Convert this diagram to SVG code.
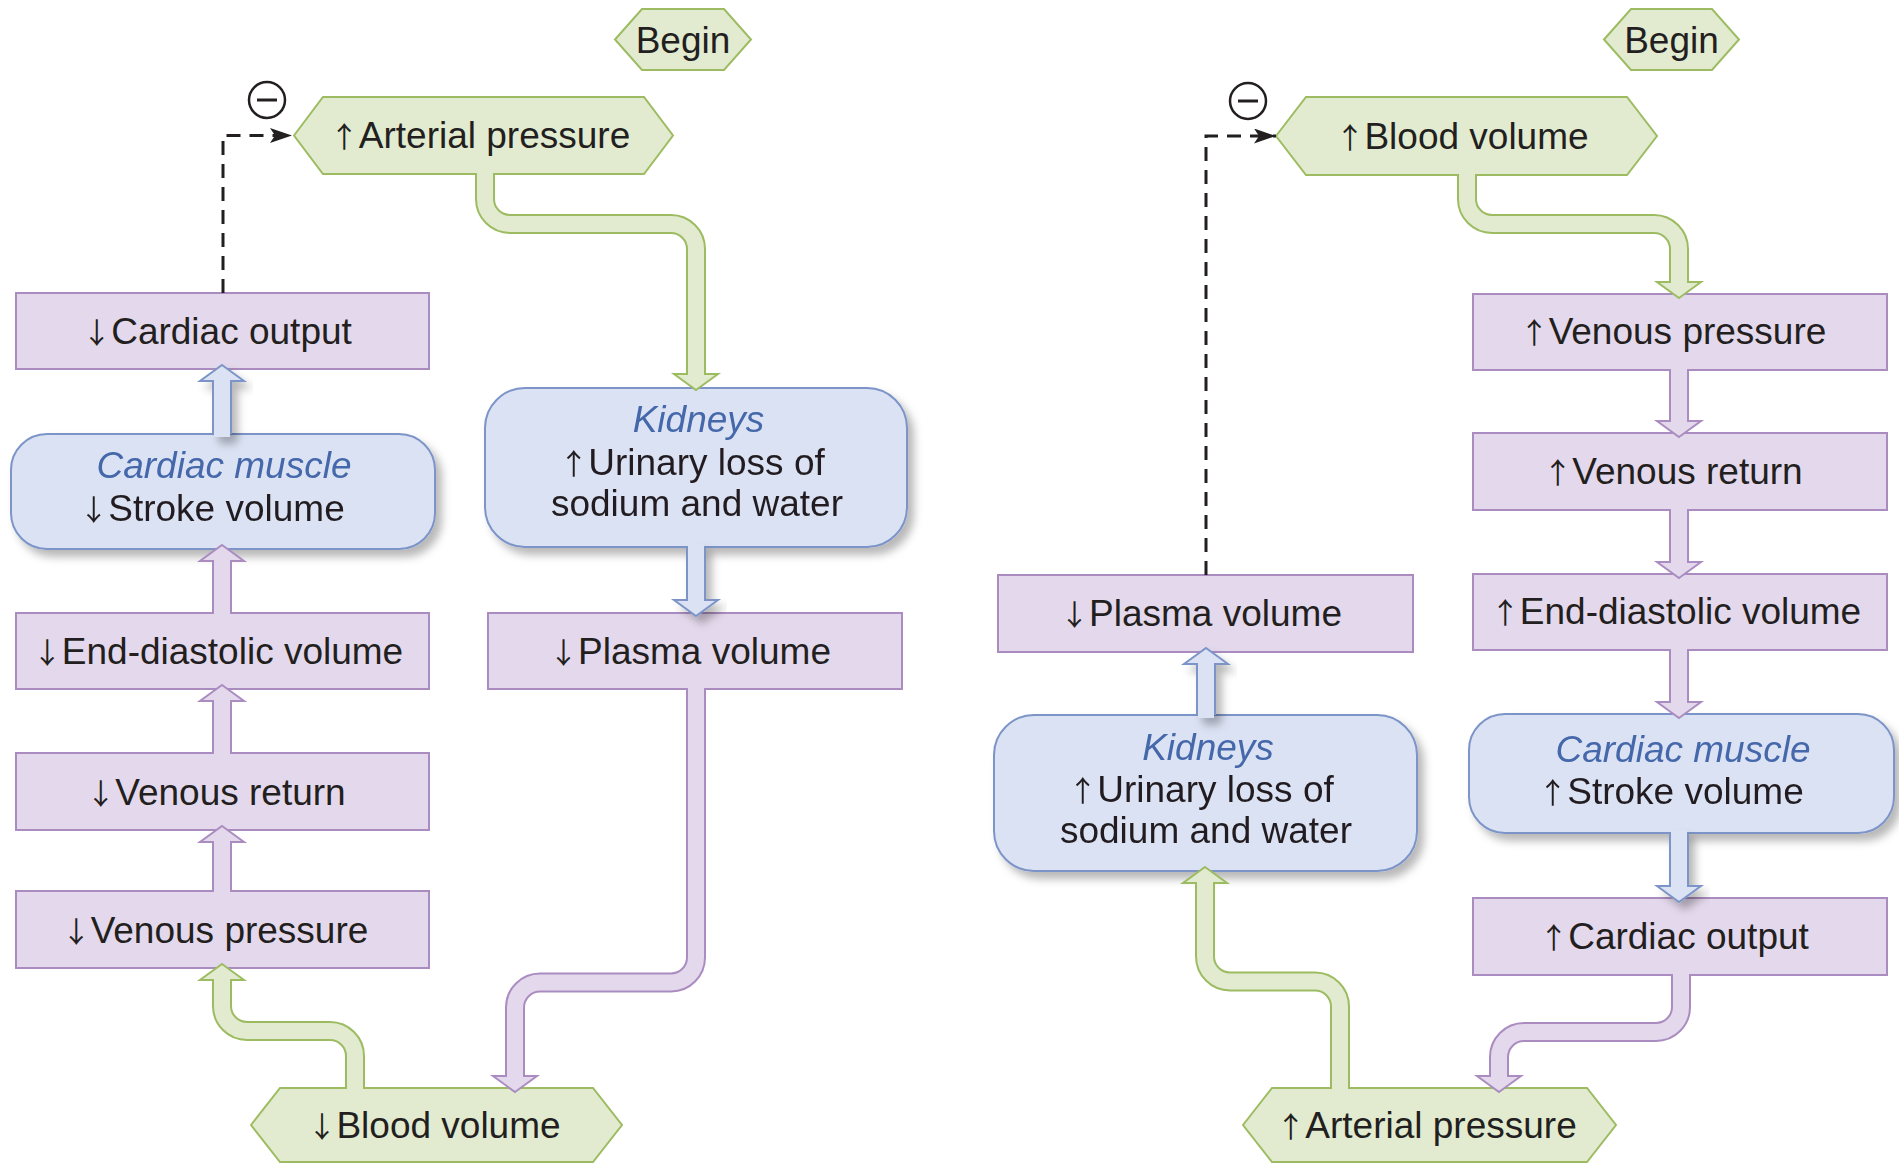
<svg xmlns="http://www.w3.org/2000/svg" width="1899" height="1163" viewBox="0 0 1899 1163">
  <defs>
    <style>
      .pk { fill: #e4d9ec; stroke: #ab8cc0; stroke-width: 2; stroke-linejoin: miter; }
      .gr { fill: #e2ebd0; stroke: #9dbc62; stroke-width: 2; stroke-linejoin: miter; }
      .bl { fill: #dbe2f3; stroke: #7c94c8; stroke-width: 2; stroke-linejoin: miter; }
      .t { font-family: "Liberation Sans", Arial, sans-serif; font-size: 37px; fill: #231f20; text-anchor: middle; }
      .ti { font-style: italic; fill: #4467ab; }
      .ar { font-family: "Noto Sans CJK SC", "DejaVu Sans", sans-serif; font-size: 29px; }
      .o-pk { fill: none; stroke: #ab8cc0; stroke-width: 20; }
      .i-pk { fill: none; stroke: #e4d9ec; stroke-width: 16; }
      .o-gr { fill: none; stroke: #9dbc62; stroke-width: 20; }
      .i-gr { fill: none; stroke: #e2ebd0; stroke-width: 16; }
      .o-bl { fill: none; stroke: #7c94c8; stroke-width: 20; }
      .i-bl { fill: none; stroke: #dbe2f3; stroke-width: 16; }
      .dash { fill: none; stroke: #231f20; stroke-width: 3; stroke-dasharray: 14 9; marker-end: url(#ah); }
      .minus { fill: #ffffff; stroke: #231f20; stroke-width: 2.5; }
    </style>
    <filter id="shadow" x="-10%" y="-10%" width="130%" height="140%">
      <feDropShadow dx="6" dy="7" stdDeviation="4" flood-color="#000000" flood-opacity="0.28"/>
    </filter>
    <marker id="ah" viewBox="0 0 22 15" refX="22" refY="7.5" markerWidth="22" markerHeight="15" markerUnits="userSpaceOnUse" orient="auto">
      <path d="M0,0 L22,7.5 L0,15 L5,7.5 z" fill="#231f20"/>
    </marker>
  </defs>

  <rect width="1899" height="1163" fill="#ffffff"/>

  <!-- ===== Left loop: rise in arterial pressure ===== -->
  <g id="begin-left">
    <polygon class="gr" points="615,39.5 642,9 724,9 751,39.5 724,70 642,70"/>
    <text class="t" x="683" y="52.5">Begin</text>
  </g>
  <g id="arterial-pressure-up-left">
    <polygon class="gr" points="294,135.5 323,97 644,97 673,135.5 644,174 323,174"/>
    <text class="t" x="480" y="148"><tspan class="ar">↑</tspan>Arterial pressure</text>
  </g>
  <g id="minus-left">
    <circle class="minus" cx="267" cy="100" r="18"/>
    <line x1="257" y1="100" x2="277" y2="100" stroke="#231f20" stroke-width="3"/>
  </g>
  <g id="cardiac-output-down">
    <rect class="pk" x="16" y="293" width="413" height="76"/>
    <text class="t" x="217" y="344"><tspan class="ar">↓</tspan>Cardiac output</text>
  </g>
  <g id="cardiac-muscle-left" filter="url(#shadow)">
    <rect class="bl" x="11" y="434" width="424" height="115" rx="36" ry="36"/>
    <text class="t ti" x="224" y="478">Cardiac muscle</text>
    <text class="t" x="212" y="521"><tspan class="ar">↓</tspan>Stroke volume</text>
  </g>
  <g id="end-diastolic-down">
    <rect class="pk" x="16" y="613" width="413" height="76"/>
    <text class="t" x="218" y="664"><tspan class="ar">↓</tspan>End-diastolic volume</text>
  </g>
  <g id="venous-return-down">
    <rect class="pk" x="16" y="753" width="413" height="77"/>
    <text class="t" x="216" y="804.5"><tspan class="ar">↓</tspan>Venous return</text>
  </g>
  <g id="venous-pressure-down">
    <rect class="pk" x="16" y="891" width="413" height="77"/>
    <text class="t" x="215" y="942.5"><tspan class="ar">↓</tspan>Venous pressure</text>
  </g>
  <g id="blood-volume-down">
    <polygon class="gr" points="251,1125 280,1088 593,1088 622,1125 593,1162 280,1162"/>
    <text class="t" x="434" y="1138"><tspan class="ar">↓</tspan>Blood volume</text>
  </g>
  <g id="kidneys-left" filter="url(#shadow)">
    <rect class="bl" x="485" y="388" width="422" height="159" rx="40" ry="40"/>
    <text class="t ti" x="698.5" y="432">Kidneys</text>
    <text class="t" x="692" y="475"><tspan class="ar">↑</tspan>Urinary loss of</text>
    <text class="t" x="697" y="516">sodium and water</text>
  </g>
  <g id="plasma-volume-down-left">
    <rect class="pk" x="488" y="613" width="414" height="76"/>
    <text class="t" x="690" y="664"><tspan class="ar">↓</tspan>Plasma volume</text>
  </g>

  <!-- ===== Right loop: rise in blood volume ===== -->
  <g id="begin-right">
    <polygon class="gr" points="1604,39.5 1631,9 1712,9 1739,39.5 1712,70 1631,70"/>
    <text class="t" x="1671.5" y="52.5">Begin</text>
  </g>
  <g id="blood-volume-up">
    <polygon class="gr" points="1276,136 1306,97 1627,97 1657,136 1627,175 1306,175"/>
    <text class="t" x="1462" y="148.5"><tspan class="ar">↑</tspan>Blood volume</text>
  </g>
  <g id="minus-right">
    <circle class="minus" cx="1248" cy="101" r="18"/>
    <line x1="1238" y1="101" x2="1258" y2="101" stroke="#231f20" stroke-width="3"/>
  </g>
  <g id="venous-pressure-up">
    <rect class="pk" x="1473" y="294" width="414" height="76"/>
    <text class="t" x="1673" y="343.5"><tspan class="ar">↑</tspan>Venous pressure</text>
  </g>
  <g id="venous-return-up">
    <rect class="pk" x="1473" y="433" width="414" height="77"/>
    <text class="t" x="1673" y="483.5"><tspan class="ar">↑</tspan>Venous return</text>
  </g>
  <g id="end-diastolic-up">
    <rect class="pk" x="1473" y="574" width="414" height="76"/>
    <text class="t" x="1676" y="624"><tspan class="ar">↑</tspan>End-diastolic volume</text>
  </g>
  <g id="cardiac-muscle-right" filter="url(#shadow)">
    <rect class="bl" x="1469" y="714" width="425" height="119" rx="36" ry="36"/>
    <text class="t ti" x="1683" y="762">Cardiac muscle</text>
    <text class="t" x="1671" y="804"><tspan class="ar">↑</tspan>Stroke volume</text>
  </g>
  <g id="cardiac-output-up">
    <rect class="pk" x="1473" y="898" width="414" height="77"/>
    <text class="t" x="1674" y="949"><tspan class="ar">↑</tspan>Cardiac output</text>
  </g>
  <g id="arterial-pressure-up-right">
    <polygon class="gr" points="1243,1125 1272,1088 1587,1088 1616,1125 1587,1162 1272,1162"/>
    <text class="t" x="1426.5" y="1138"><tspan class="ar">↑</tspan>Arterial pressure</text>
  </g>
  <g id="kidneys-right" filter="url(#shadow)">
    <rect class="bl" x="994" y="715" width="423" height="156" rx="40" ry="40"/>
    <text class="t ti" x="1208" y="760">Kidneys</text>
    <text class="t" x="1201" y="802"><tspan class="ar">↑</tspan>Urinary loss of</text>
    <text class="t" x="1206" y="843">sodium and water</text>
  </g>
  <g id="plasma-volume-down-right">
    <rect class="pk" x="998" y="575" width="415" height="77"/>
    <text class="t" x="1201" y="626"><tspan class="ar">↓</tspan>Plasma volume</text>
  </g>

  <!-- ===== Connectors: block arrows (border stroke, head, inner fill) and dashed feedback ===== -->
  <g id="connectors">
    <!-- left: arterial pressure -> kidneys -->
    <g>
      <path class="o-gr" d="M485,174 V199 A25,25 0 0 0 510,224 H671 A25,25 0 0 1 696,249 V374"/>
      <polygon class="gr" points="696,390 718,374 674,374"/>
      <path class="i-gr" d="M485,171 V199 A25,25 0 0 0 510,224 H671 A25,25 0 0 1 696,249 V376"/>
    </g>
    <!-- left: kidneys -> plasma volume -->
    <g filter="url(#shadow)">
      <path class="o-bl" d="M696,547 V600"/>
      <polygon class="bl" points="696,616 718,600 674,600"/>
      <path class="i-bl" d="M696,544 V602"/>
    </g>
    <!-- left: plasma volume -> blood volume -->
    <g>
      <path class="o-pk" d="M696,689 V957.5 A25,25 0 0 1 671,982.5 H540 A25,25 0 0 0 515,1007.5 V1076"/>
      <polygon class="pk" points="515,1092 537,1076 493,1076"/>
      <path class="i-pk" d="M696,686 V957.5 A25,25 0 0 1 671,982.5 H540 A25,25 0 0 0 515,1007.5 V1078"/>
    </g>
    <!-- left: blood volume -> venous pressure -->
    <g>
      <path class="o-gr" d="M355,1088 V1056 A25,25 0 0 0 330,1031 H247 A25,25 0 0 1 222,1006 V980"/>
      <polygon class="gr" points="222,964 244,980 200,980"/>
      <path class="i-gr" d="M355,1091 V1056 A25,25 0 0 0 330,1031 H247 A25,25 0 0 1 222,1006 V978"/>
    </g>
    <!-- left: venous pressure -> venous return -->
    <g>
      <path class="o-pk" d="M222,891 V842"/>
      <polygon class="pk" points="222,826 244,842 200,842"/>
      <path class="i-pk" d="M222,894 V840"/>
    </g>
    <!-- left: venous return -> end-diastolic volume -->
    <g>
      <path class="o-pk" d="M222,753 V701"/>
      <polygon class="pk" points="222,685 244,701 200,701"/>
      <path class="i-pk" d="M222,756 V699"/>
    </g>
    <!-- left: end-diastolic volume -> cardiac muscle -->
    <g>
      <path class="o-pk" d="M222,613 V561"/>
      <polygon class="pk" points="222,545 244,561 200,561"/>
      <path class="i-pk" d="M222,616 V559"/>
    </g>
    <!-- left: cardiac muscle -> cardiac output -->
    <g filter="url(#shadow)">
      <path class="o-bl" d="M222,434 V381"/>
      <polygon class="bl" points="222,365 244,381 200,381"/>
      <path class="i-bl" d="M222,437 V379"/>
    </g>
    <!-- left: negative feedback -->
    <path class="dash" d="M223,293 V135.5 H292"/>

    <!-- right: blood volume -> venous pressure -->
    <g>
      <path class="o-gr" d="M1467,175 V199 A25,25 0 0 0 1492,224 H1654 A25,25 0 0 1 1679,249 V282"/>
      <polygon class="gr" points="1679,298 1701,282 1657,282"/>
      <path class="i-gr" d="M1467,172 V199 A25,25 0 0 0 1492,224 H1654 A25,25 0 0 1 1679,249 V284"/>
    </g>
    <!-- right: venous pressure -> venous return -->
    <g>
      <path class="o-pk" d="M1679,370 V421"/>
      <polygon class="pk" points="1679,437 1701,421 1657,421"/>
      <path class="i-pk" d="M1679,367 V423"/>
    </g>
    <!-- right: venous return -> end-diastolic volume -->
    <g>
      <path class="o-pk" d="M1679,510 V562"/>
      <polygon class="pk" points="1679,578 1701,562 1657,562"/>
      <path class="i-pk" d="M1679,507 V564"/>
    </g>
    <!-- right: end-diastolic volume -> cardiac muscle -->
    <g>
      <path class="o-pk" d="M1679,650 V702"/>
      <polygon class="pk" points="1679,718 1701,702 1657,702"/>
      <path class="i-pk" d="M1679,647 V704"/>
    </g>
    <!-- right: cardiac muscle -> cardiac output -->
    <g filter="url(#shadow)">
      <path class="o-bl" d="M1679,833 V886"/>
      <polygon class="bl" points="1679,902 1701,886 1657,886"/>
      <path class="i-bl" d="M1679,830 V888"/>
    </g>
    <!-- right: cardiac output -> arterial pressure -->
    <g>
      <path class="o-pk" d="M1681,975 V1007 A25,25 0 0 1 1656,1032 H1524 A25,25 0 0 0 1499,1057 V1076"/>
      <polygon class="pk" points="1499,1092 1521,1076 1477,1076"/>
      <path class="i-pk" d="M1681,972 V1007 A25,25 0 0 1 1656,1032 H1524 A25,25 0 0 0 1499,1057 V1078"/>
    </g>
    <!-- right: arterial pressure -> kidneys -->
    <g>
      <path class="o-gr" d="M1340,1088 V1006.5 A25,25 0 0 0 1315,981.5 H1230 A25,25 0 0 1 1205,956.5 V883"/>
      <polygon class="gr" points="1205,867 1227,883 1183,883"/>
      <path class="i-gr" d="M1340,1091 V1006.5 A25,25 0 0 0 1315,981.5 H1230 A25,25 0 0 1 1205,956.5 V881"/>
    </g>
    <!-- right: kidneys -> plasma volume -->
    <g filter="url(#shadow)">
      <path class="o-bl" d="M1206,715 V664"/>
      <polygon class="bl" points="1206,648 1228,664 1184,664"/>
      <path class="i-bl" d="M1206,718 V662"/>
    </g>
    <!-- right: negative feedback -->
    <path class="dash" d="M1206,575 V136 H1276"/>
  </g>
</svg>
